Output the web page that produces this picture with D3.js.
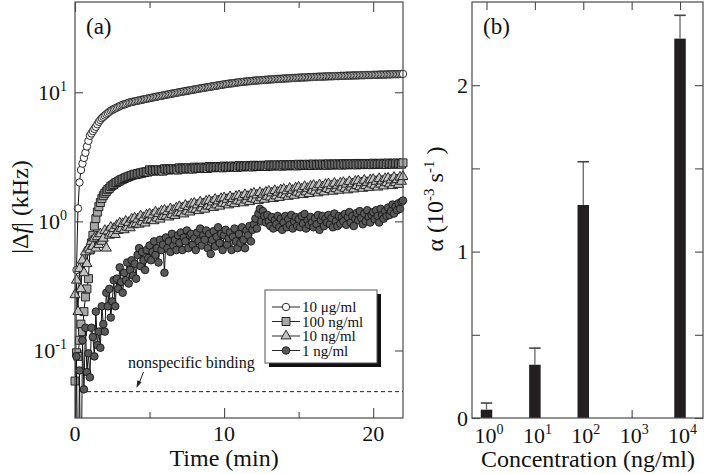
<!DOCTYPE html>
<html><head><meta charset="utf-8">
<script src="https://cdn.jsdelivr.net/npm/d3@7"></script>
<style>
body{margin:0;background:#fff}
svg{display:block}
text{font-family:"Liberation Serif","Times New Roman",serif;fill:#111}
</style>
</head><body>
<svg id="c" width="706" height="474"></svg>
<script>
// ---------- DATA ----------
const times = [
 0,0.1,0.2,0.3,0.4,0.5,0.6,0.7,0.8,0.9,
 1,1.1,1.2,1.3,1.4,1.5,1.6,1.7,1.8,1.9,
 2,2.1,2.2,2.3,2.4,2.5,2.6,2.7,2.8,2.9,
 3,3.1,3.2,3.3,3.4,3.5,3.6,3.7,3.8,3.9,
 4,4.1,4.2,4.3,4.4,4.5,4.6,4.7,4.8,4.9,
 5,5.1,5.2,5.3,5.4,5.5,5.6,5.7,5.8,5.9,
 6,6.1,6.2,6.3,6.4,6.5,6.6,6.7,6.8,6.9,
 7,7.1,7.2,7.3,7.4,7.5,7.6,7.7,7.8,7.9,
 8,8.1,8.2,8.3,8.4,8.5,8.6,8.7,8.8,8.9,
 9,9.1,9.2,9.3,9.4,9.5,9.6,9.7,9.8,9.9,
 10,10.1,10.2,10.3,10.4,10.5,10.6,10.7,10.8,10.9,
 11,11.1,11.2,11.3,11.4,11.5,11.6,11.7,11.8,11.9,
 12,12.1,12.2,12.3,12.4,12.5,12.6,12.7,12.8,12.9,
 13,13.1,13.2,13.3,13.4,13.5,13.6,13.7,13.8,13.9,
 14,14.1,14.2,14.3,14.4,14.5,14.6,14.7,14.8,14.9,
 15,15.1,15.2,15.3,15.4,15.5,15.6,15.7,15.8,15.9,
 16,16.1,16.2,16.3,16.4,16.5,16.6,16.7,16.8,16.9,
 17,17.1,17.2,17.3,17.4,17.5,17.6,17.7,17.8,17.9,
 18,18.1,18.2,18.3,18.4,18.5,18.6,18.7,18.8,18.9,
 19,19.1,19.2,19.3,19.4,19.5,19.6,19.7,19.8,19.9,
 20,20.1,20.2,20.3,20.4,20.5,20.6,20.7,20.8,20.9,
 21,21.1,21.2,21.3,21.4,21.5,21.6,21.7,21.8,21.9,
 22];

// |Δf| (kHz), 10 µg/ml
const df10ug = [
 0.012,0.42,1.26,2.0,2.5,2.8,3.1,3.4,3.8,4.2,
 4.6,4.8,5.0,5.2,5.4,5.65,5.9,6.1,6.3,6.45,
 6.6,6.75,6.9,7.05,7.2,7.3,7.4,7.5,7.6,7.7,
 7.8,7.9,8.0,8.05,8.1,8.2,8.3,8.35,8.4,8.45,
 8.5,8.55,8.6,8.65,8.7,8.75,8.8,8.85,8.9,8.95,
 9.0,9.05,9.1,9.15,9.2,9.25,9.3,9.35,9.4,9.45,
 9.5,9.55,9.6,9.65,9.7,9.75,9.8,9.85,9.9,9.95,
 10.0,10.05,10.1,10.15,10.2,10.25,10.3,10.35,10.4,10.45,
 10.5,10.55,10.6,10.65,10.7,10.75,10.8,10.85,10.9,10.95,
 11.0,11.05,11.1,11.15,11.2,11.25,11.3,11.35,11.4,11.45,
 11.5,11.55,11.6,11.65,11.7,11.7,11.75,11.8,11.85,11.9,
 11.95,12.0,12.0,12.05,12.1,12.1,12.15,12.2,12.2,12.25,
 12.3,12.3,12.35,12.35,12.4,12.4,12.45,12.45,12.5,12.5,
 12.55,12.55,12.6,12.6,12.65,12.65,12.7,12.7,12.7,12.75,
 12.75,12.8,12.8,12.8,12.85,12.85,12.9,12.9,12.9,12.95,
 12.95,13.0,13.0,13.0,13.05,13.05,13.05,13.1,13.1,13.1,
 13.15,13.15,13.15,13.2,13.2,13.2,13.2,13.25,13.25,13.25,
 13.3,13.3,13.3,13.3,13.35,13.35,13.35,13.35,13.4,13.4,
 13.4,13.4,13.45,13.45,13.45,13.45,13.5,13.5,13.5,13.5,
 13.5,13.55,13.55,13.55,13.55,13.6,13.6,13.6,13.6,13.6,
 13.65,13.65,13.65,13.65,13.7,13.7,13.7,13.7,13.7,13.75,
 13.75,13.75,13.75,13.8,13.8,13.8,13.8,13.8,13.85,13.85,
 13.85];

// 100 ng/ml
const df100ng = [
 0.058,0.096,0.09,0.12,0.16,0.14,0.2,0.26,0.3,0.36,
 0.6,0.68,0.78,0.92,1.05,1.18,1.3,1.4,1.5,1.58,
 1.65,1.70,1.76,1.80,1.86,1.90,1.93,1.98,2.00,2.04,
 2.06,2.10,2.12,2.15,2.18,2.20,2.22,2.25,2.27,2.29,
 2.32,2.30,2.35,2.33,2.38,2.36,2.41,2.39,2.43,2.41,
 2.51,2.46,2.49,2.45,2.50,2.47,2.51,2.46,2.49,2.45,
 2.56,2.51,2.54,2.50,2.55,2.52,2.56,2.51,2.54,2.50,
 2.60,2.55,2.58,2.54,2.59,2.56,2.60,2.55,2.58,2.54,
 2.63,2.58,2.61,2.57,2.62,2.59,2.63,2.58,2.61,2.57,
 2.66,2.61,2.64,2.60,2.65,2.62,2.66,2.61,2.64,2.60,
 2.68,2.63,2.66,2.62,2.67,2.64,2.68,2.63,2.66,2.62,
 2.70,2.65,2.68,2.64,2.69,2.66,2.70,2.65,2.68,2.64,
 2.72,2.67,2.70,2.66,2.71,2.68,2.72,2.67,2.70,2.66,
 2.74,2.69,2.72,2.68,2.73,2.70,2.74,2.69,2.72,2.68,
 2.75,2.70,2.73,2.69,2.74,2.71,2.75,2.70,2.73,2.69,
 2.77,2.72,2.75,2.71,2.76,2.73,2.77,2.72,2.75,2.71,
 2.78,2.73,2.76,2.72,2.77,2.74,2.78,2.73,2.76,2.72,
 2.79,2.74,2.77,2.73,2.78,2.75,2.79,2.74,2.77,2.73,
 2.80,2.75,2.78,2.74,2.79,2.76,2.80,2.75,2.78,2.74,
 2.81,2.76,2.79,2.75,2.80,2.77,2.81,2.76,2.79,2.75,
 2.82,2.77,2.80,2.76,2.81,2.78,2.82,2.77,2.80,2.76,
 2.83,2.78,2.81,2.77,2.82,2.79,2.83,2.78,2.81,2.77,
 2.84];

// 10 ng/ml
const df10ng = [
 0.27,0.35,0.2,0.43,0.3,0.5,0.4,0.58,0.47,0.62,
 0.6,0.7,0.64,0.74,0.62,0.76,0.66,0.8,0.7,0.74,
 0.85,0.62,0.84,0.78,0.9,0.8,0.88,0.79,0.93,0.85,
 0.97,0.88,0.96,0.86,1.0,0.9,0.98,0.89,1.04,0.94,
 1.06,0.96,1.04,0.95,1.1,0.99,1.07,0.97,1.12,1.02,
 1.14,1.03,1.12,1.01,1.18,1.06,1.15,1.04,1.2,1.09,
 1.22,1.1,1.19,1.08,1.25,1.13,1.22,1.11,1.27,1.16,
 1.3,1.17,1.27,1.14,1.33,1.2,1.3,1.18,1.36,1.24,
 1.38,1.24,1.34,1.21,1.41,1.27,1.37,1.24,1.43,1.31,
 1.45,1.31,1.41,1.28,1.48,1.34,1.44,1.31,1.5,1.38,
 1.52,1.37,1.48,1.34,1.55,1.4,1.5,1.37,1.56,1.44,
 1.58,1.43,1.54,1.39,1.61,1.46,1.56,1.42,1.62,1.5,
 1.65,1.48,1.6,1.45,1.67,1.52,1.62,1.48,1.68,1.56,
 1.71,1.54,1.66,1.5,1.73,1.57,1.68,1.53,1.75,1.62,
 1.77,1.6,1.72,1.56,1.8,1.63,1.74,1.59,1.81,1.68,
 1.84,1.65,1.78,1.61,1.86,1.69,1.8,1.64,1.87,1.74,
 1.9,1.71,1.84,1.66,1.92,1.74,1.85,1.69,1.93,1.79,
 1.95,1.76,1.89,1.71,1.97,1.79,1.9,1.74,1.98,1.84,
 2.0,1.8,1.94,1.75,2.03,1.84,1.95,1.78,2.04,1.89,
 2.06,1.85,1.99,1.8,2.08,1.89,2.0,1.83,2.09,1.94,
 2.11,1.9,2.04,1.84,2.14,1.94,2.05,1.88,2.14,1.99,
 2.16,1.95,2.09,1.89,2.19,1.99,2.1,1.93,2.2,2.04,
 2.22];

// 1 ng/ml
const df1ng = [
 0.005,0.09,0.005,0.07,0.005,0.12,0.05,0.15,0.068,0.095,
 0.062,0.15,0.127,0.09,0.2,0.11,0.14,0.105,0.22,0.16,
 0.14,0.28,0.22,0.3,0.18,0.24,0.35,0.22,0.36,0.3,
 0.44,0.34,0.28,0.4,0.35,0.48,0.33,0.42,0.5,0.38,
 0.47,0.36,0.55,0.62,0.45,0.58,0.5,0.42,0.6,0.52,
 0.65,0.5,0.58,0.7,0.55,0.62,0.48,0.72,0.6,0.66,
 0.4,0.75,0.62,0.7,0.58,0.8,0.65,0.72,0.6,0.78,
 0.68,0.82,0.6,0.75,0.7,0.85,0.62,0.78,0.8,0.66,
 0.74,0.6,0.82,0.7,0.88,0.65,0.78,0.72,0.85,0.62,
 0.8,0.56,0.72,0.84,0.64,0.76,0.9,0.68,0.8,0.6,
 0.78,0.86,0.66,0.74,0.82,0.6,0.76,0.88,0.7,0.62,
 0.8,0.68,0.9,0.72,0.62,0.85,0.78,0.92,0.7,0.86,
 0.95,1.05,0.88,1.15,1.25,1.0,1.2,1.1,0.98,1.12,
 1.0,0.92,1.08,0.88,1.02,0.95,1.1,0.9,1.05,0.86,
 0.98,1.1,0.9,1.04,0.94,1.12,0.88,1.0,1.08,0.92,
 1.04,0.9,1.1,0.96,1.14,0.88,1.02,0.94,1.08,0.98,
 0.9,1.06,0.95,1.12,0.86,1.02,1.1,0.92,1.05,0.98,
 1.12,0.95,1.06,0.9,1.15,1.0,0.92,1.1,0.96,1.08,
 1.0,1.14,0.94,1.08,1.18,0.98,1.1,0.92,1.05,1.16,
 1.02,1.2,1.06,0.95,1.15,1.0,1.22,1.08,0.98,1.12,
 1.18,1.04,1.22,1.1,0.98,1.25,1.12,1.05,1.2,1.1,
 1.28,1.12,1.2,1.35,1.15,1.3,1.22,1.38,1.25,1.42,
 1.45];

const seriesNames = ["10 \u03bcg/ml","100 ng/ml","10 ng/ml","1 ng/ml"];
const nonspecificLevel = 0.048;

const timeTicks = [0,10,20];
const timeMinorTicks = [5,15];
const dfTicks = [0.1,1,10];
const dfTickExp = ["-1","0","1"];

// panel (b)
const concExp = [0,1,2,3,4];           // tick positions: 10^n ng/ml
const barExp = [0,1,2,4];
const alphaVals = [0.05,0.32,1.28,2.28];
const alphaErr = [0.04,0.10,0.26,0.14];
const alphaTicks = [0,1,2];
const alphaMinorTicks = [0.5,1.5];

// ---------- DRAW ----------
const svg = d3.select("#c");
const frameCol = "#4a4a4a";
const markStroke = "#151515";

const xA = d3.scaleLinear().domain([0,22]).range([75,403]);
const yA = d3.scaleLog().domain([0.03,50]).range([418,2]);
const xB = d3.scaleLinear().domain([-0.3,4.475]).range([472,703]);
const yB = d3.scaleLinear().domain([0,2.5]).range([418,2]);

const defs = svg.append("defs");
defs.append("clipPath").attr("id","clipA").append("rect")
  .attr("x",68).attr("y",0).attr("width",340).attr("height",418);
defs.append("clipPath").attr("id","clipAL").append("rect")
  .attr("x",75).attr("y",2).attr("width",328).attr("height",416);

function tickAxis(g, axis){
  g.call(axis);
  g.select(".domain").remove();
  g.selectAll(".tick line").attr("stroke",frameCol).attr("stroke-width",1.1);
  g.selectAll(".tick text").remove();
}

// ---- panel (a) ticks ----
const ga = svg.append("g");
ga.append("g").attr("transform","translate(0,418)")
  .call(g=>tickAxis(g,d3.axisBottom(xA).tickValues(timeTicks).tickSizeInner(-10).tickSizeOuter(0)));
ga.append("g").attr("transform","translate(0,418)")
  .call(g=>tickAxis(g,d3.axisBottom(xA).tickValues(timeMinorTicks).tickSizeInner(-6).tickSizeOuter(0)));
ga.append("g").attr("transform","translate(0,2)")
  .call(g=>tickAxis(g,d3.axisTop(xA).tickValues(timeTicks).tickSizeInner(-10).tickSizeOuter(0)));
ga.append("g").attr("transform","translate(0,2)")
  .call(g=>tickAxis(g,d3.axisTop(xA).tickValues(timeMinorTicks).tickSizeInner(-6).tickSizeOuter(0)));
ga.append("g").attr("transform","translate(75,0)")
  .call(g=>tickAxis(g,d3.axisLeft(yA).tickValues(dfTicks).tickSizeInner(-8).tickSizeOuter(0)));
ga.append("g").attr("transform","translate(403,0)")
  .call(g=>tickAxis(g,d3.axisRight(yA).tickValues(dfTicks).tickSizeInner(-8).tickSizeOuter(0)));

ga.selectAll("text.xl").data(timeTicks).join("text")
  .attr("x",d=>xA(d)).attr("y",441).attr("text-anchor","middle")
  .style("font-size","22px").text(d=>d);
dfTicks.forEach((d,i)=>{
  const t = ga.append("text").attr("x",67).attr("y",yA(d)+7.5)
    .attr("text-anchor","end").style("font-size","22px");
  t.append("tspan").text("10");
  t.append("tspan").attr("dy",-9).style("font-size","14px").text(dfTickExp[i]);
});

svg.append("text").attr("x",xA(10)).attr("y",466).attr("text-anchor","middle")
  .style("font-size","24px").text("Time (min)");
const yt = svg.append("text").attr("transform","translate(28,207) rotate(-90)")
  .attr("text-anchor","middle").style("font-size","24px");
yt.append("tspan").text("|\u0394");
yt.append("tspan").style("font-style","italic").text("f");
yt.append("tspan").text("| (kHz)");
svg.append("text").attr("x",86).attr("y",34).style("font-size","23px").text("(a)");

// nonspecific binding
svg.append("line").attr("x1",80).attr("x2",403)
  .attr("y1",yA(nonspecificLevel)).attr("y2",yA(nonspecificLevel))
  .attr("stroke","#222").attr("stroke-width",1).attr("stroke-dasharray","4,3");
svg.append("text").attr("x",128).attr("y",368).style("font-size","16px").text("nonspecific binding");
svg.append("line").attr("x1",143.5).attr("y1",372).attr("x2",139.5).attr("y2",382)
  .attr("stroke","#222").attr("stroke-width",1);
svg.append("path").attr("d","M136.5,388 L137.3,380.2 L141.6,381.9 Z").attr("fill","#222");

// series
const symSquare = d3.symbol().type(d3.symbolSquare).size(64)();
const symTri = d3.symbol().type(d3.symbolTriangle).size(44)();
const series = [
  {vals:df10ug,  kind:"circle", fill:"#ffffff", r:3.7},
  {vals:df100ng, kind:"path", d:symSquare, fill:"#a6a6a6"},
  {vals:df10ng,  kind:"path", d:symTri, fill:"#c2c2c2"},
  {vals:df1ng,   kind:"circle", fill:"#595959", r:3.8}
];
const line = d3.line().x(d=>xA(d.t)).y(d=>yA(d.v));
const gs = svg.append("g").attr("clip-path","url(#clipA)");
series.forEach(s=>{
  const pts = times.map((t,i)=>({t:t,v:s.vals[i]}));
  const g = gs.append("g");
  g.append("path").datum(pts).attr("d",line).attr("fill","none")
    .attr("stroke","#111").attr("stroke-width",1).attr("clip-path","url(#clipAL)");
  if(s.kind==="circle"){
    g.selectAll("circle").data(pts).join("circle")
      .attr("cx",d=>xA(d.t)).attr("cy",d=>yA(d.v)).attr("r",s.r)
      .attr("fill",s.fill).attr("stroke",markStroke).attr("stroke-width",0.9);
  } else {
    g.selectAll("path.m").data(pts).join("path").attr("class","m")
      .attr("transform",d=>`translate(${xA(d.t)},${yA(d.v)})`).attr("d",s.d)
      .attr("fill",s.fill).attr("stroke",markStroke).attr("stroke-width",0.9);
  }
});

svg.append("rect").attr("x",75).attr("y",2).attr("width",328).attr("height",416)
  .attr("fill","none").attr("stroke",frameCol).attr("stroke-width",1.2);

// legend
const lg = svg.append("g");
lg.append("rect").attr("x",269).attr("y",294).attr("width",112).attr("height",73).attr("fill","#111");
lg.append("rect").attr("x",265).attr("y",290).attr("width",112).attr("height",73)
  .attr("fill","#fff").attr("stroke","#555").attr("stroke-width",1);
seriesNames.forEach((nm,i)=>{
  const y = 307 + i*14.5;
  const s = series[i];
  lg.append("line").attr("x1",272).attr("x2",300).attr("y1",y).attr("y2",y)
    .attr("stroke","#111").attr("stroke-width",0.9);
  if(s.kind==="circle"){
    lg.append("circle").attr("cx",286).attr("cy",y).attr("r",s.r)
      .attr("fill",s.fill).attr("stroke",markStroke).attr("stroke-width",0.9);
  } else {
    lg.append("path").attr("transform",`translate(286,${y})`).attr("d",s.d)
      .attr("fill",s.fill).attr("stroke",markStroke).attr("stroke-width",0.9);
  }
  lg.append("text").attr("x",302).attr("y",y+5).style("font-size","15px").text(nm);
});

// ---- panel (b) ----
const gb = svg.append("g");
gb.append("g").attr("transform","translate(472,0)")
  .call(g=>tickAxis(g,d3.axisLeft(yB).tickValues(alphaTicks.concat(alphaMinorTicks)).tickSizeInner(-8).tickSizeOuter(0)));
gb.append("g").attr("transform","translate(703,0)")
  .call(g=>tickAxis(g,d3.axisRight(yB).tickValues(alphaTicks.concat(alphaMinorTicks)).tickSizeInner(-8).tickSizeOuter(0)));
gb.append("g").attr("transform","translate(0,418)")
  .call(g=>tickAxis(g,d3.axisBottom(xB).tickValues(concExp).tickSizeInner(-8).tickSizeOuter(0)));
gb.append("g").attr("transform","translate(0,2)")
  .call(g=>tickAxis(g,d3.axisTop(xB).tickValues(concExp).tickSizeInner(-8).tickSizeOuter(0)));

const bw = 11.5;
gb.selectAll("rect.bar").data(barExp).join("rect").attr("class","bar")
  .attr("x",(d)=>xB(d)-bw/2).attr("width",bw)
  .attr("y",(d,i)=>yB(alphaVals[i])).attr("height",(d,i)=>yB(0)-yB(alphaVals[i]))
  .attr("fill","#231f20");
gb.selectAll("line.err").data(barExp).join("line").attr("class","err")
  .attr("x1",d=>xB(d)).attr("x2",d=>xB(d))
  .attr("y1",(d,i)=>yB(alphaVals[i])).attr("y2",(d,i)=>yB(alphaVals[i]+alphaErr[i]))
  .attr("stroke","#666").attr("stroke-width",1.3);
gb.selectAll("line.cap").data(barExp).join("line").attr("class","cap")
  .attr("x1",d=>xB(d)-bw/2).attr("x2",d=>xB(d)+bw/2)
  .attr("y1",(d,i)=>yB(alphaVals[i]+alphaErr[i])).attr("y2",(d,i)=>yB(alphaVals[i]+alphaErr[i]))
  .attr("stroke","#444").attr("stroke-width",1.6);

svg.append("rect").attr("x",472).attr("y",2).attr("width",231).attr("height",416)
  .attr("fill","none").attr("stroke",frameCol).attr("stroke-width",1.2);

gb.selectAll("text.yl").data(alphaTicks).join("text")
  .attr("x",468).attr("y",d=>yB(d)+7.5).attr("text-anchor","end")
  .style("font-size","22px").text(d=>d);
concExp.forEach(e=>{
  const t = gb.append("text").attr("x",xB(e)-12).attr("y",443).style("font-size","22px");
  t.append("tspan").text("10");
  t.append("tspan").attr("dy",-9).style("font-size","14px").text(e);
});
svg.append("text").attr("x",588).attr("y",467).attr("text-anchor","middle")
  .style("font-size","24px").text("Concentration (ng/ml)");
const yt2 = svg.append("text").attr("transform","translate(443,199) rotate(-90)")
  .attr("text-anchor","middle").style("font-size","24px");
yt2.append("tspan").text("\u03b1 (10");
yt2.append("tspan").attr("dy",-9).style("font-size","15px").text("-3");
yt2.append("tspan").attr("dy",9).text(" s");
yt2.append("tspan").attr("dy",-9).style("font-size","15px").text("-1");
yt2.append("tspan").attr("dy",9).text(" )");
svg.append("text").attr("x",483).attr("y",34).style("font-size","23px").text("(b)");
</script>
</body></html>
